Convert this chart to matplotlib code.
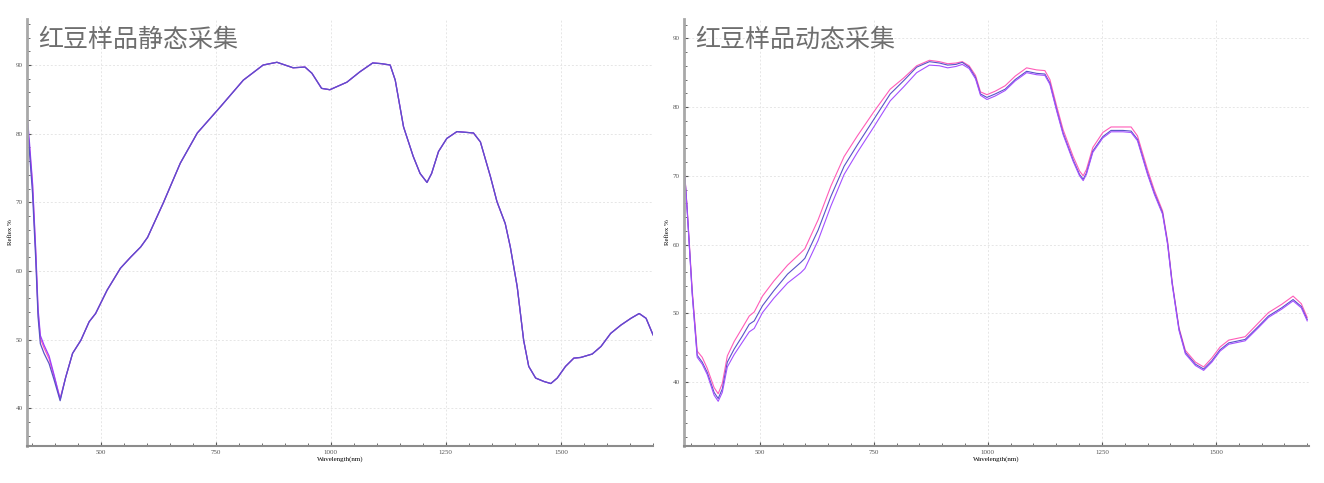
import matplotlib
matplotlib.use("Agg")
import matplotlib.pyplot as plt
from matplotlib.ticker import MultipleLocator

# ---- static collection (left) ----
static_wl = [341, 345, 352, 359, 364, 369, 377, 388, 399, 412,
             424, 439, 457, 475, 489, 514, 543, 565, 587, 602, 636, 673, 710, 760,
             810, 853, 883, 918, 944, 959, 980, 998, 1035, 1063, 1091, 1110, 1129,
             1140, 1158, 1179, 1194, 1209, 1219, 1234, 1252, 1274, 1310, 1325, 1347,
             1361, 1379, 1390, 1405, 1419, 1430, 1445, 1463, 1478, 1492, 1510, 1528,
             1543, 1568, 1587, 1608, 1630, 1652, 1670, 1685, 1700]
static_tail = [44.5, 48.0, 49.9, 52.6, 53.8, 57.2, 60.4, 62.0, 63.5, 64.9, 69.9, 75.7,
               80.1, 83.9, 87.8, 90.0, 90.4, 89.6, 89.7, 88.8, 86.6, 86.4, 87.5, 89.0,
               90.3, 90.2, 90.0, 87.8, 81.0, 76.7, 74.2, 72.9, 74.2, 77.4, 79.3, 80.3,
               80.1, 78.8, 73.7, 70.1, 66.9, 63.5, 57.7, 49.9, 46.1, 44.4, 43.9, 43.6,
               44.4, 46.1, 47.3, 47.4, 47.9, 49.0, 50.9, 52.1, 53.1, 53.8, 53.1, 50.7]
static_pink = [80.5, 78.2, 72.5, 62.5, 54.0, 50.2, 48.8, 47.2, 44.6, 41.4] + static_tail
static_purple = [82.2, 79.0, 72.8, 63.0, 54.5, 50.6, 49.2, 47.6, 44.8, 41.3] + static_tail
static_blue = [81.6, 77.7, 71.3, 61.6, 53.3, 49.4, 48.0, 46.5, 44.1, 41.1] + static_tail

# ---- dynamic collection (right) ----
dyn_wl = [336, 341, 352, 363, 374, 385, 400, 409, 418, 429, 444, 462, 477, 488, 506,
          531, 561, 590, 599, 628, 656, 685, 714, 750, 786, 815, 844, 872, 894, 912,
          930, 944, 959, 973, 984, 998, 1016, 1038, 1060, 1085, 1107, 1125, 1136,
          1151, 1165, 1187, 1201, 1209, 1216, 1230, 1252, 1270, 1296, 1314, 1328,
          1350, 1365, 1383, 1394, 1404, 1419, 1433, 1455, 1473, 1491, 1509, 1528,
          1564, 1593, 1615, 1644, 1669, 1687, 1700]
dyn_blue = [69.9, 65.1, 53.0, 43.9, 42.9, 41.4, 38.5, 37.6, 39.0, 42.9, 44.8, 46.7, 48.4,
            48.9, 51.1, 53.3, 55.7, 57.4, 58.0, 62.1, 67.0, 71.4, 74.5, 78.2, 81.9, 83.8,
            85.8, 86.6, 86.4, 86.1, 86.2, 86.5, 85.8, 84.3, 81.9, 81.4, 81.9, 82.6, 84.0,
            85.2, 84.9, 84.8, 83.5, 79.6, 76.2, 72.3, 70.2, 69.5, 70.4, 73.6, 75.7, 76.6,
            76.6, 76.5, 75.3, 70.4, 67.5, 64.6, 60.2, 54.4, 47.7, 44.3, 42.6, 41.9, 43.1,
            44.7, 45.7, 46.2, 48.1, 49.6, 50.8, 52.0, 51.0, 49.1]
dyn_pink = [70.0, 65.3, 53.5, 44.5, 43.6, 42.0, 39.2, 38.3, 39.8, 43.8, 45.9, 47.9, 49.6,
            50.2, 52.5, 54.7, 57.0, 58.8, 59.4, 63.6, 68.5, 72.8, 75.8, 79.3, 82.6, 84.2,
            86.0, 86.8, 86.6, 86.3, 86.4, 86.6, 86.0, 84.6, 82.2, 81.8, 82.3, 83.1, 84.5,
            85.7, 85.4, 85.3, 84.0, 80.1, 76.7, 72.8, 70.7, 70.0, 70.9, 74.1, 76.3, 77.1,
            77.1, 77.1, 75.8, 70.9, 67.9, 64.9, 60.5, 54.6, 47.9, 44.6, 42.9, 42.2, 43.5,
            45.1, 46.1, 46.6, 48.6, 50.1, 51.3, 52.5, 51.4, 49.4]
dyn_purple = [69.8, 64.9, 52.8, 43.6, 42.6, 41.1, 38.1, 37.2, 38.5, 42.2, 44.0, 45.8, 47.3,
              47.8, 50.1, 52.2, 54.4, 55.9, 56.5, 60.6, 65.6, 70.2, 73.4, 77.1, 80.9, 82.9,
              85.0, 86.1, 86.0, 85.7, 85.9, 86.2, 85.6, 84.1, 81.7, 81.1, 81.6, 82.4, 83.8,
              85.0, 84.7, 84.6, 83.3, 79.4, 76.0, 72.1, 70.0, 69.3, 70.2, 73.4, 75.5, 76.4,
              76.4, 76.3, 75.1, 70.2, 67.3, 64.4, 60.0, 54.2, 47.5, 44.1, 42.4, 41.7, 42.9,
              44.5, 45.5, 46.0, 47.9, 49.4, 50.6, 51.8, 50.8, 48.9]

titles = ["红豆样品静态采集", "红豆样品动态采集"]

fig = plt.figure(figsize=(13.24, 4.83), dpi=100)
ax1 = fig.add_axes([0.0204, 0.0766, 0.4728, 0.884])
ax2 = fig.add_axes([0.5166, 0.0766, 0.4721, 0.884])

ax1.plot(static_wl, static_pink, color="#ff5cb8", lw=0.9)
ax1.plot(static_wl, static_purple, color="#9b40ff", lw=0.9)
ax1.plot(static_wl, static_blue, color="#5a52c8", lw=0.9)
ax1.set_xlim(340, 1700)
ax1.set_ylim(34.5, 96.7)

ax2.plot(dyn_wl, dyn_pink, color="#ff5cb8", lw=0.8)
ax2.plot(dyn_wl, dyn_blue, color="#5a52c8", lw=0.8)
ax2.plot(dyn_wl, dyn_purple, color="#a450ff", lw=0.8)
ax2.set_xlim(334, 1704)
ax2.set_ylim(30.7, 92.8)

for ax, t in zip([ax1, ax2], titles):
    ax.xaxis.set_major_locator(MultipleLocator(250))
    ax.xaxis.set_minor_locator(MultipleLocator(50))
    ax.yaxis.set_major_locator(MultipleLocator(10))
    ax.yaxis.set_minor_locator(MultipleLocator(2))
    ax.grid(True, which="major", ls=(0, (2, 2)), color="#e6e6e6", lw=0.7)
    for s in ["top", "right"]:
        ax.spines[s].set_visible(False)
    ax.spines["left"].set_color("#a8a8a8")
    ax.spines["bottom"].set_color("#8c8c8c")
    ax.spines["left"].set_linewidth(2)
    ax.spines["bottom"].set_linewidth(1.5)
    ax.tick_params(which="both", direction="in", colors="#555555", labelsize=5, pad=3)
    ax.tick_params(which="major", length=3)
    ax.tick_params(which="minor", length=2)
    for lab in ax.get_xticklabels() + ax.get_yticklabels():
        lab.set_family("Liberation Serif")
    ax.set_xlabel("Wavelength(nm)", fontsize=5, family="Liberation Serif", labelpad=1)
    ax.set_ylabel("Reflex %", fontsize=5, family="Liberation Serif", labelpad=2)
    ax.text(0.018, 0.951, t, transform=ax.transAxes, fontsize=18, color="#6e6e6e",
            family=["Noto Sans CJK SC", "DejaVu Sans"], va="center", ha="left")

fig.savefig("out.png", dpi=100)
